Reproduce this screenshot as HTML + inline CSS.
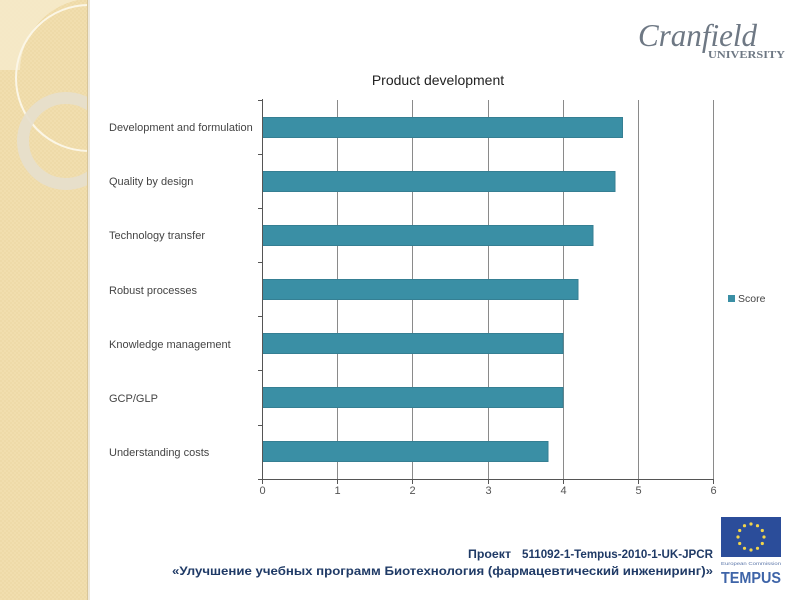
<!DOCTYPE html>
<html><head><meta charset="utf-8"><style>
html,body{margin:0;padding:0;background:#fff;}
svg{display:block;}
</style></head><body>
<svg width="800" height="600" viewBox="0 0 800 600" xmlns="http://www.w3.org/2000/svg">
<defs>
<pattern id="tex" width="4" height="4" patternUnits="userSpaceOnUse">
<rect width="4" height="4" fill="#f1deae"/>
<rect width="2" height="2" fill="#eedaa8"/>
<rect x="2" y="2" width="2" height="2" fill="#eedaa8"/>
</pattern>
<clipPath id="side"><rect x="0" y="0" width="88" height="600"/></clipPath>
</defs>
<!-- sidebar -->
<rect x="0" y="0" width="88" height="600" fill="url(#tex)"/>
<g clip-path="url(#side)">
<path d="M0 0 H78 A73 73 0 0 0 20 70 L0 70 Z" fill="#f6ebcd" opacity="0.8"/>
<circle cx="89" cy="78" r="73" fill="none" stroke="#fbf6e6" stroke-width="2"/>
<circle cx="66" cy="141" r="43" fill="none" stroke="#e6dfcd" stroke-width="12" opacity="0.9"/>
</g>
<rect x="87" y="0" width="1" height="600" fill="#d8c69a"/>
<rect x="88" y="0" width="2" height="600" fill="#eee8da"/>

<!-- Cranfield logo -->
<text x="638" y="46" font-family="Liberation Serif, serif" font-style="italic" font-size="32" fill="#6e7884" textLength="119" lengthAdjust="spacingAndGlyphs">Cranfield</text>
<text x="708" y="58" font-family="Liberation Serif, serif" font-weight="bold" font-size="10.5" fill="#6e7884" textLength="77" lengthAdjust="spacingAndGlyphs">UNIVERSITY</text>

<!-- title -->
<text x="438" y="85" text-anchor="middle" font-family="Liberation Sans, sans-serif" font-size="14" fill="#222">Product development</text>

<!-- gridlines -->
<g stroke="#8a8a8a" stroke-width="1">
<line x1="337.5" y1="100" x2="337.5" y2="479"/>
<line x1="412.5" y1="100" x2="412.5" y2="479"/>
<line x1="488.5" y1="100" x2="488.5" y2="479"/>
<line x1="563.5" y1="100" x2="563.5" y2="479"/>
<line x1="638.5" y1="100" x2="638.5" y2="479"/>
<line x1="713.5" y1="100" x2="713.5" y2="479"/>
</g>

<!-- bars -->
<g fill="#3a8fa5" stroke="#357f93" stroke-width="1">
<rect x="262.5" y="117.5" width="360" height="20"/>
<rect x="262.5" y="171.5" width="352.5" height="20"/>
<rect x="262.5" y="225.5" width="330.5" height="20"/>
<rect x="262.5" y="279.5" width="315.5" height="20"/>
<rect x="262.5" y="333.5" width="300.5" height="20"/>
<rect x="262.5" y="387.5" width="300.5" height="20"/>
<rect x="262.5" y="441.5" width="285.5" height="20"/>
</g>

<!-- axes -->
<g stroke="#555" stroke-width="1">
<line x1="262.5" y1="99" x2="262.5" y2="480"/>
<line x1="258" y1="479.5" x2="714" y2="479.5"/>
<line x1="258" y1="100.5" x2="262" y2="100.5"/>
<line x1="258" y1="154.5" x2="262" y2="154.5"/>
<line x1="258" y1="208.5" x2="262" y2="208.5"/>
<line x1="258" y1="262.5" x2="262" y2="262.5"/>
<line x1="258" y1="316.5" x2="262" y2="316.5"/>
<line x1="258" y1="370.5" x2="262" y2="370.5"/>
<line x1="258" y1="425.5" x2="262" y2="425.5"/>
<line x1="262.5" y1="479" x2="262.5" y2="484"/>
<line x1="337.5" y1="479" x2="337.5" y2="484"/>
<line x1="412.5" y1="479" x2="412.5" y2="484"/>
<line x1="488.5" y1="479" x2="488.5" y2="484"/>
<line x1="563.5" y1="479" x2="563.5" y2="484"/>
<line x1="638.5" y1="479" x2="638.5" y2="484"/>
<line x1="713.5" y1="479" x2="713.5" y2="484"/>
</g>

<!-- category labels -->
<g font-family="Liberation Sans, sans-serif" font-size="11" fill="#444">
<text x="109" y="131">Development and formulation</text>
<text x="109" y="185">Quality by design</text>
<text x="109" y="239">Technology transfer</text>
<text x="109" y="294">Robust processes</text>
<text x="109" y="348">Knowledge management</text>
<text x="109" y="402">GCP/GLP</text>
<text x="109" y="456">Understanding costs</text>
</g>

<!-- x tick labels -->
<g font-family="Liberation Sans, sans-serif" font-size="11" fill="#555" text-anchor="middle">
<text x="262.5" y="494">0</text>
<text x="337.5" y="494">1</text>
<text x="412.5" y="494">2</text>
<text x="488.5" y="494">3</text>
<text x="563.5" y="494">4</text>
<text x="638.5" y="494">5</text>
<text x="713.5" y="494">6</text>
</g>

<!-- legend -->
<rect x="728" y="295" width="7" height="7" fill="#3a8fa5"/>
<text x="738" y="302" font-family="Liberation Sans, sans-serif" font-size="10.5" fill="#444">Score</text>

<!-- footer text -->
<g font-family="Liberation Sans, 'Noto Sans CJK SC', sans-serif" font-weight="bold" font-size="12" fill="#1f3a66">
<text x="468" y="558" textLength="43" lengthAdjust="spacingAndGlyphs">Проект</text>
<text x="522" y="558" textLength="191" lengthAdjust="spacingAndGlyphs">511092-1-Tempus-2010-1-UK-JPCR</text>
<text x="172" y="575" textLength="541" lengthAdjust="spacingAndGlyphs">«Улучшение учебных программ Биотехнология (фармацевтический инжениринг)»</text>
</g>

<!-- Tempus logo -->
<rect x="721" y="517" width="60" height="40" fill="#2b4d9a"/>
<g fill="#f2d54a">
<circle cx="751" cy="524" r="1.6"/>
<circle cx="757.5" cy="525.7" r="1.6"/>
<circle cx="762.3" cy="530.5" r="1.6"/>
<circle cx="764" cy="537" r="1.6"/>
<circle cx="762.3" cy="543.5" r="1.6"/>
<circle cx="757.5" cy="548.3" r="1.6"/>
<circle cx="751" cy="550" r="1.6"/>
<circle cx="744.5" cy="548.3" r="1.6"/>
<circle cx="739.7" cy="543.5" r="1.6"/>
<circle cx="738" cy="537" r="1.6"/>
<circle cx="739.7" cy="530.5" r="1.6"/>
<circle cx="744.5" cy="525.7" r="1.6"/>
</g>
<text x="721" y="565" font-family="Liberation Sans, sans-serif" font-size="4.5" fill="#5a75a8" textLength="60" lengthAdjust="spacingAndGlyphs">European Commission</text>
<text x="721" y="583" font-family="Liberation Sans, sans-serif" font-weight="bold" font-size="16" fill="#3e64a8" textLength="60" lengthAdjust="spacingAndGlyphs">TEMPUS</text>
</svg>
</body></html>
